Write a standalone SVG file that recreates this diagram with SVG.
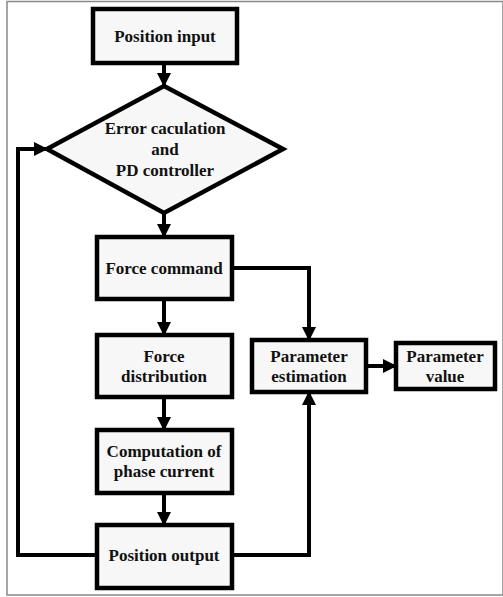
<svg xmlns="http://www.w3.org/2000/svg" width="503" height="597" viewBox="0 0 503 597">
<defs>
<marker id="ah" markerUnits="userSpaceOnUse" markerWidth="14" markerHeight="14" viewBox="0 0 14 14" refX="13" refY="7" orient="auto">
<path d="M0,0 L14,7 L0,14 Z" fill="#000"/>
</marker>
<style>
.b{fill:#f7f7f7;stroke:#000;stroke-width:4.5}
.t{font-family:'Liberation Serif','Times New Roman','DejaVu Serif',serif;font-weight:bold;font-size:17px;fill:#111;text-anchor:middle}
.c{fill:none;stroke:#000;stroke-width:4}
</style>
</defs>
<rect width="503" height="597" fill="#fff"/>
<rect x="7" y="1.5" width="496" height="593.5" fill="none" stroke="#888" stroke-width="1.5"/>
<g id="connectors">
<path class="c" d="M164,63 V86" marker-end="url(#ah)"/>
<path class="c" d="M164,213 V237" marker-end="url(#ah)"/>
<path class="c" d="M164,299 V335" marker-end="url(#ah)"/>
<path class="c" d="M164,397 V430" marker-end="url(#ah)"/>
<path class="c" d="M164,493 V525" marker-end="url(#ah)"/>
<path class="c" d="M232,268 H309 V340" marker-end="url(#ah)"/>
<path class="c" d="M232,555 H309 V392" marker-end="url(#ah)"/>
<path class="c" d="M366,366 H396" marker-end="url(#ah)"/>
<path class="c" d="M97,555 H18 V149 H47" marker-end="url(#ah)"/>
</g>
<g id="position-input">
<rect class="b" x="93" y="9" width="144" height="54"/>
<text class="t" x="165" y="42">Position input</text>
</g>
<g id="error-pd">
<path class="b" d="M164,86 L283,149 L164,213 L47,149 Z"/>
<text class="t" x="165" y="134">Error caculation</text>
<text class="t" x="165" y="155">and</text>
<text class="t" x="165" y="176">PD controller</text>
</g>
<g id="force-command">
<rect class="b" x="97" y="237" width="135" height="62"/>
<text class="t" x="164" y="274">Force command</text>
</g>
<g id="force-distribution">
<rect class="b" x="97" y="335" width="135" height="62"/>
<text class="t" x="164" y="362">Force</text>
<text class="t" x="164" y="382">distribution</text>
</g>
<g id="computation">
<rect class="b" x="97" y="430" width="135" height="63"/>
<text class="t" x="164" y="457">Computation of</text>
<text class="t" x="164" y="477">phase current</text>
</g>
<g id="position-output">
<rect class="b" x="97" y="525" width="135" height="63"/>
<text class="t" x="164" y="561">Position output</text>
</g>
<g id="parameter-estimation">
<rect class="b" x="252" y="340" width="114" height="52"/>
<text class="t" x="309" y="362">Parameter</text>
<text class="t" x="309" y="382">estimation</text>
</g>
<g id="parameter-value">
<rect class="b" x="396" y="343" width="99" height="46"/>
<text class="t" x="445" y="362">Parameter</text>
<text class="t" x="445" y="382">value</text>
</g>
</svg>
